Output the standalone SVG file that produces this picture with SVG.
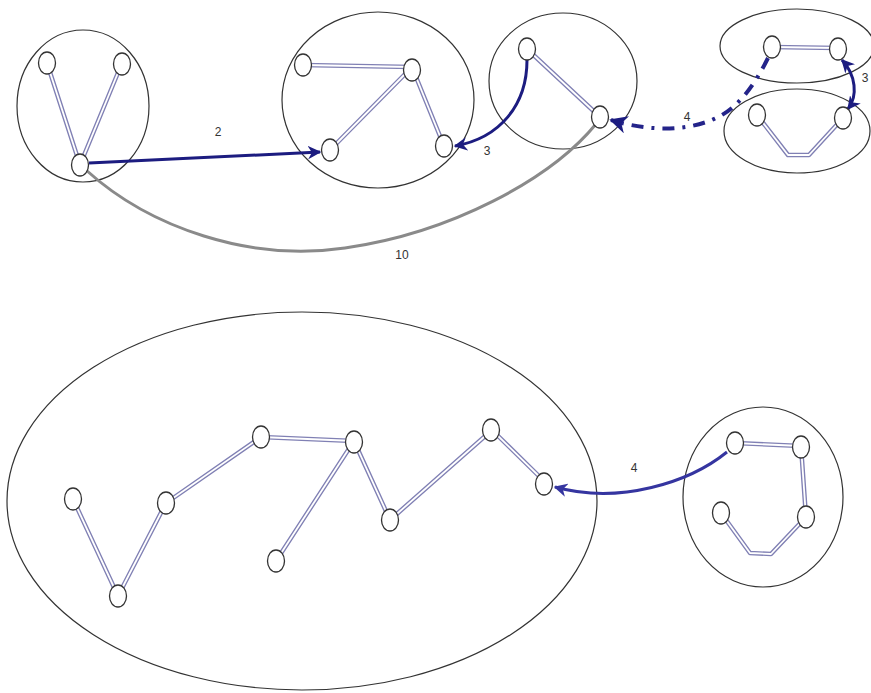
<svg xmlns="http://www.w3.org/2000/svg" width="871" height="693" viewBox="0 0 871 693">
<defs>
<style>
.cl{fill:none;stroke:#333;stroke-width:1.2}
.nd{fill:#fff;stroke:#333;stroke-width:1.3}
.eo{fill:none;stroke:#8080b4;stroke-width:4.5;stroke-linecap:round;stroke-linejoin:round}
.ei{fill:none;stroke:#fff;stroke-width:1.8;stroke-linecap:round;stroke-linejoin:round}
.lb{font-family:"Liberation Sans",Arial,sans-serif;font-size:12px;fill:#333;text-anchor:middle}
</style>
<marker id="ah" viewBox="0 0 10 10" refX="9" refY="5" markerWidth="4.5" markerHeight="4.5" orient="auto-start-reverse" markerUnits="strokeWidth">
<path d="M0,0 L10,5 L0,10 L3,5 Z" fill="#1c1c80"/>
</marker>
<marker id="ah2" viewBox="0 0 10 10" refX="9" refY="5" markerWidth="4.5" markerHeight="4.5" orient="auto" markerUnits="strokeWidth">
<path d="M0,0 L10,5 L0,10 L3,5 Z" fill="#3535a0"/>
</marker>
</defs>
<rect width="871" height="693" fill="#fff"/>

<g id="clusters">
<ellipse id="c1" class="cl" cx="83" cy="106" rx="66" ry="76"/>
<ellipse id="c2" class="cl" cx="378" cy="100" rx="96" ry="88"/>
<ellipse id="c3" class="cl" cx="563" cy="81" rx="74" ry="68"/>
<ellipse id="c4a" class="cl" cx="797" cy="46" rx="77" ry="37"/>
<ellipse id="c4b" class="cl" cx="797" cy="131" rx="73" ry="42"/>
<ellipse id="c5" class="cl" cx="302" cy="501" rx="295" ry="189"/>
<ellipse id="c6" class="cl" cx="763" cy="497" rx="80" ry="90"/>
</g>

<g id="connectors">
<g class="eo">
<path d="M47,63 L80,165 M122,63 L80,165"/>
<path d="M303,65 L412,67 L330,150 M412,67 L444,146"/>
<path d="M527,49 L600,117"/>
<path d="M772,47 L838,48"/>
<path d="M757,115 L788,155 L809,155 L843,118"/>
<path d="M73,499 L118,596 L166,503 L261,437 L354,441 L276,561 M354,441 L390,520 L492,430 L546,483"/>
<path d="M735,443 L801,446 L806,517 L771,554 L750,553 L721,513"/>
</g>
<g class="ei">
<path d="M47,63 L80,165 M122,63 L80,165"/>
<path d="M303,65 L412,67 L330,150 M412,67 L444,146"/>
<path d="M527,49 L600,117"/>
<path d="M772,47 L838,48"/>
<path d="M757,115 L788,155 L809,155 L843,118"/>
<path d="M73,499 L118,596 L166,503 L261,437 L354,441 L276,561 M354,441 L390,520 L492,430 L546,483"/>
<path d="M735,443 L801,446 L806,517 L771,554 L750,553 L721,513"/>
</g>
<path id="e10" d="M86,170 C150,228 250,262 345,248 C450,233 550,180 596,124" fill="none" stroke="#8a8a8a" stroke-width="3"/>
<path id="e2" d="M89,163 L320,152" fill="none" stroke="#1c1c80" stroke-width="3" marker-end="url(#ah)"/>
<path id="e3" d="M527,60 C527,105 500,138 455,146" fill="none" stroke="#1c1c80" stroke-width="3" marker-end="url(#ah)"/>
<path id="e4a" d="M768,58 C756,82 742,103 722,115 C692,132 650,132 611,120" fill="none" stroke="#24248a" stroke-width="4" stroke-dasharray="12,8,3,8" marker-end="url(#ah)"/>
<path id="e3b" d="M842,60 C856,75 858,96 848,109" fill="none" stroke="#1c1c80" stroke-width="3" marker-start="url(#ah)" marker-end="url(#ah)"/>
<path id="e4b" d="M727,452 C690,482 620,505 555,487" fill="none" stroke="#3535a0" stroke-width="3" marker-end="url(#ah2)"/>
<text class="lb" x="218" y="136">2</text>
<text class="lb" x="487" y="155">3</text>
<text class="lb" x="402" y="259">10</text>
<text class="lb" x="687" y="121">4</text>
<text class="lb" x="865" y="82">3</text>
<text class="lb" x="634" y="472">4</text>
</g>

<g id="nodes">
<g id="n1"><ellipse class="nd" cx="47" cy="63" rx="8.5" ry="11"/></g>
<g id="n2"><ellipse class="nd" cx="122" cy="64" rx="8.5" ry="11"/></g>
<g id="n3"><ellipse class="nd" cx="80" cy="165" rx="8.5" ry="11"/></g>
<g id="n4"><ellipse class="nd" cx="303" cy="65" rx="8.5" ry="11"/></g>
<g id="n5"><ellipse class="nd" cx="412" cy="70" rx="8.5" ry="11"/></g>
<g id="n6"><ellipse class="nd" cx="330" cy="150" rx="8.5" ry="11"/></g>
<g id="n7"><ellipse class="nd" cx="444" cy="146" rx="8.5" ry="11"/></g>
<g id="n8"><ellipse class="nd" cx="527" cy="49" rx="8.5" ry="11"/></g>
<g id="n9"><ellipse class="nd" cx="600" cy="117" rx="8.5" ry="11"/></g>
<g id="n10"><ellipse class="nd" cx="772" cy="47" rx="8.5" ry="11"/></g>
<g id="n11"><ellipse class="nd" cx="838" cy="49" rx="8.5" ry="11"/></g>
<g id="n12"><ellipse class="nd" cx="757" cy="115" rx="8.5" ry="11"/></g>
<g id="n13"><ellipse class="nd" cx="843" cy="118" rx="8.5" ry="11"/></g>
<g id="n14"><ellipse class="nd" cx="73" cy="499" rx="8.5" ry="11"/></g>
<g id="n15"><ellipse class="nd" cx="118" cy="596" rx="8.5" ry="11"/></g>
<g id="n16"><ellipse class="nd" cx="166" cy="503" rx="8.5" ry="11"/></g>
<g id="n17"><ellipse class="nd" cx="261" cy="437" rx="8.5" ry="11"/></g>
<g id="n18"><ellipse class="nd" cx="354" cy="442" rx="8.5" ry="11"/></g>
<g id="n19"><ellipse class="nd" cx="276" cy="561" rx="8.5" ry="11"/></g>
<g id="n20"><ellipse class="nd" cx="390" cy="520" rx="8.5" ry="11"/></g>
<g id="n21"><ellipse class="nd" cx="491" cy="430" rx="8.5" ry="11"/></g>
<g id="n22"><ellipse class="nd" cx="544" cy="484" rx="8.5" ry="11"/></g>
<g id="n23"><ellipse class="nd" cx="735" cy="443" rx="8.5" ry="11"/></g>
<g id="n24"><ellipse class="nd" cx="801" cy="447" rx="8.5" ry="11"/></g>
<g id="n25"><ellipse class="nd" cx="806" cy="517" rx="8.5" ry="11"/></g>
<g id="n26"><ellipse class="nd" cx="721" cy="513" rx="8.5" ry="11"/></g>
</g>
</svg>
